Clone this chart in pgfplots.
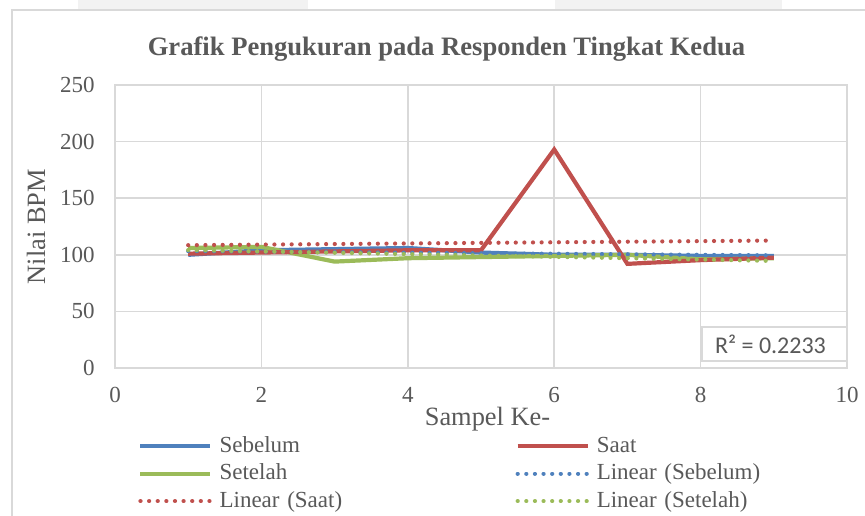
\documentclass[border=0pt]{standalone}
\usepackage{pgfplots}
\pgfplotsset{compat=1.18}
\usepackage{fontspec}
\setmainfont{Liberation Serif}
\newfontfamily\calibri{Carlito}
\definecolor{cBlue}{HTML}{4F81BD}
\definecolor{cRed}{HTML}{C0504D}
\definecolor{cGreen}{HTML}{9BBB59}
\definecolor{cGrid}{HTML}{D9D9D9}
\definecolor{cText}{HTML}{595959}
\pgfplotsset{
  solidline/.style={line width=2.1pt},
  trendline/.style={line width=2.1pt, dash pattern=on 0.01pt off 4.3pt, line cap=round},
}
\begin{document}
\begin{tikzpicture}
\useasboundingbox (0pt,0pt) rectangle (432.5pt,257.5pt);
\begin{scope}[x=0.5pt,y=0.5pt]
\fill[white] (0,0) rectangle (865,515);
\fill[black!5] (78,505) rectangle (308,515);
\fill[black!5] (555,505) rectangle (782,515);
\draw[cGrid, line width=0.75pt] (12,-5) -- (12,505) -- (870,505);
\node[anchor=base, font=\fontsize{13.3}{16}\selectfont\bfseries, text=cText] at (446.5,459) {Grafik Pengukuran pada Responden Tingkat Kedua};
\node[anchor=base, rotate=90, font=\fontsize{13.2}{16}\selectfont, text=cText] at (45,288.5) {Nilai BPM};
\node[anchor=base, font=\fontsize{13.2}{16}\selectfont, text=cText] at (487.5,89.5) {Sampel Ke-};
\end{scope}
\begin{axis}[
  at={(57.5pt,73.5pt)}, anchor=south west,
  width=366pt, height=141.5pt, scale only axis,
  xmin=0, xmax=10, ymin=0, ymax=250,
  xtick={0,2,...,10}, ytick={0,50,...,250},
  grid=major,
  major grid style={cGrid, line width=0.75pt},
  axis line style={cGrid, line width=0.75pt},
  tick style={draw=none},
  /pgf/number format/assume math mode=true,
  ticklabel style={font=\fontsize{11.5}{13}\selectfont, text=cText},
  xticklabel style={yshift=-6pt},
  yticklabel style={xshift=-6.7pt},
  legend columns=2,
  legend cell align=left,
  legend style={draw=none, fill=none, inner sep=0pt, at={(0.0314,-0.226)}, anchor=north west,
    row sep=0pt, column sep=0pt,
    nodes={inner xsep=3.5pt, inner ysep=0.875pt, text height=9pt, text depth=3pt, text width=144.5pt, align=left, font=\fontsize{11.5}{13}\selectfont, text=cText}},
  legend image code/.code={\draw[#1] (0pt,0pt) -- (35pt,0pt);},
]
% data series
\addplot[cBlue, solidline, forget plot] coordinates {(1,100) (2,104) (3,105) (4,106) (5,102) (6,100) (7,100) (8,99) (9,99)};
\addplot[cGreen, solidline, forget plot] coordinates {(1,106) (2,107) (3,94) (4,97) (5,98) (6,99) (7,100) (8,96) (9,97)};
\addplot[cRed, solidline, forget plot] coordinates {(1,101) (2,102) (3,103) (4,104) (5,104) (6,193) (7,92) (8,95.3) (9,97.5)};
% trendlines
\addplot[cBlue, trendline, forget plot] coordinates {(1,103.3) (9,99.5)};
\addplot[cRed, trendline, forget plot] coordinates {(1,108.5) (9,112.6)};
\addplot[cGreen, trendline, forget plot] coordinates {(1,104.2) (9,94.6)};
% legend
\addlegendimage{cBlue, solidline}\addlegendentry{Sebelum}
\addlegendimage{cRed, solidline}\addlegendentry{Saat}
\addlegendimage{cGreen, solidline}\addlegendentry{Setelah}
\addlegendimage{cBlue, trendline}\addlegendentry{Linear (Sebelum)}
\addlegendimage{cRed, trendline}\addlegendentry{Linear (Saat)}
\addlegendimage{cGreen, trendline}\addlegendentry{Linear (Setelah)}
\end{axis}
\begin{scope}[x=0.5pt,y=0.5pt]
\draw[cGrid, fill=white, line width=0.75pt] (702,154) rectangle (847,188);
\node[font=\calibri\fontsize{12}{14}\selectfont, text=cText] at (770.5,171) {R² = 0.2233};
\end{scope}
\end{tikzpicture}
\end{document}
